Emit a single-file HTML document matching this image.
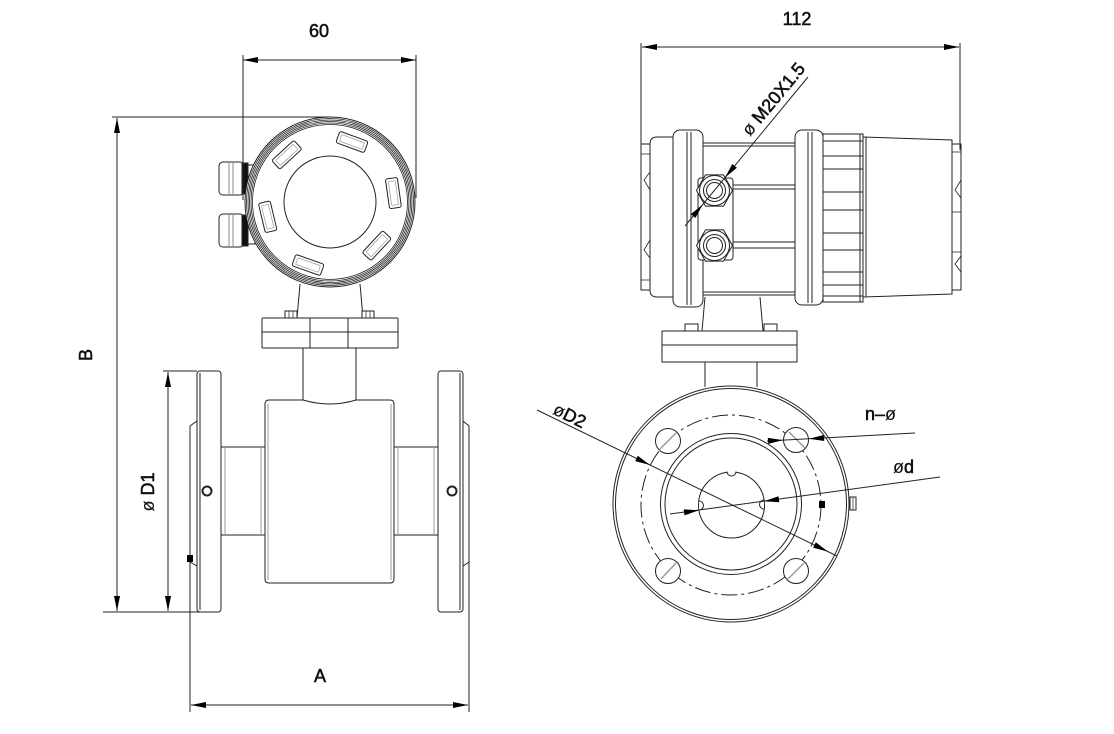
<!DOCTYPE html>
<html><head><meta charset="utf-8"><style>
html,body{margin:0;padding:0;background:#fff;}
svg{display:block;}
text{font-family:"Liberation Sans",Arial,sans-serif;fill:#111;font-size:18px;stroke:#111;stroke-width:0.55;}
tspan.l{stroke-width:0.1;}
</style></head><body>
<svg width="1114" height="734" viewBox="0 0 1114 734" xmlns="http://www.w3.org/2000/svg">
<defs>
<marker id="a" viewBox="0 0 15 6" markerWidth="15" markerHeight="6" refX="15" refY="3" orient="auto-start-reverse" markerUnits="userSpaceOnUse"><path d="M0,0L15,3L0,6z" fill="#000"/></marker>
</defs>
<rect width="1114" height="734" fill="#fff"/>

<!-- ================= LEFT VIEW ================= -->
<g fill="none" stroke="#222" stroke-width="1">
  <g fill="#fff">
    <rect x="219" y="162" width="25" height="33" rx="4"/>
    <rect x="248" y="165" width="7" height="27"/>
    <rect x="219" y="214" width="25" height="33" rx="4"/>
    <rect x="248" y="217" width="7" height="27"/>
  </g>
  <rect x="242" y="163" width="6" height="31" fill="#111"/>
  <rect x="242" y="215" width="6" height="31" fill="#111"/>
  <path d="M229,163V194M233,163V194M229,215V246M233,215V246" stroke="#888"/>

  <circle cx="330" cy="202" r="85" fill="#fff"/>
  <g stroke-width="0.8">
    <circle cx="330" cy="202" r="83.5"/>
    <circle cx="330" cy="202" r="82"/>
    <circle cx="330" cy="202" r="80.5"/>
    <circle cx="330" cy="202" r="79"/>
    <circle cx="330" cy="202" r="77.5"/>
  </g>
  <g>
    <rect x="-15" y="-6" width="30" height="12" rx="2" transform="translate(352,142) rotate(20.1)"/>
    <rect x="-15" y="-6" width="30" height="12" rx="2" transform="translate(286.8,154.8) rotate(-42.5)"/>
    <rect x="-15" y="-6" width="30" height="12" rx="2" transform="translate(393.4,193.1) rotate(82)"/>
    <rect x="-15" y="-6" width="30" height="12" rx="2" transform="translate(376.8,245.6) rotate(133)"/>
    <rect x="-15" y="-6" width="30" height="12" rx="2" transform="translate(308,265) rotate(199.5)"/>
    <rect x="-15" y="-6" width="30" height="12" rx="2" transform="translate(267.7,216.8) rotate(256.6)"/>
  </g>
  <g stroke="#999" stroke-width="0.7">
    <rect x="-12" y="-3.5" width="24" height="7" rx="1" transform="translate(352,142) rotate(20.1)"/>
    <rect x="-12" y="-3.5" width="24" height="7" rx="1" transform="translate(286.8,154.8) rotate(-42.5)"/>
    <rect x="-12" y="-3.5" width="24" height="7" rx="1" transform="translate(393.4,193.1) rotate(82)"/>
    <rect x="-12" y="-3.5" width="24" height="7" rx="1" transform="translate(376.8,245.6) rotate(133)"/>
    <rect x="-12" y="-3.5" width="24" height="7" rx="1" transform="translate(308,265) rotate(199.5)"/>
    <rect x="-12" y="-3.5" width="24" height="7" rx="1" transform="translate(267.7,216.8) rotate(256.6)"/>
  </g>
  <circle cx="330" cy="202" r="46"/>

  <path d="M300,284L297,318M360,284L363,318"/>
  <rect x="285" y="311" width="12" height="7" fill="#fff"/>
  <rect x="362" y="311" width="12" height="7" fill="#fff"/>
  <path d="M289,311V318M293,311V318M366,311V318M370,311V318" stroke-width="0.7"/>
  <rect x="262" y="318" width="136" height="30" rx="1" fill="#fff"/>
  <path d="M262,332H398M310,318V348M348,318V348"/>
  <path d="M303,348V401M356,348V401"/>
  <path d="M269,400L303,400Q330,408 356,400L390,400Q394,400 394,404L394,579Q394,583 390,583L269,583Q265,583 265,579L265,404Q265,400 269,400Z" fill="#fff"/>
  <path d="M268,404V580M391,404V580" stroke="#999"/>
  <rect x="221" y="447" width="44" height="88"/>
  <rect x="394" y="447" width="44" height="88"/>
  <path d="M225,448V534M261,448V534M398,448V534M434,448V534" stroke="#999"/>
  <rect x="197" y="371" width="24" height="241" rx="3" fill="#fff"/>
  <rect x="438" y="371" width="25" height="241" rx="3" fill="#fff"/>
  <path d="M200,373V610M460,373V610"/>
  <path d="M197,421L190,426V562L197,566M463,421L469,426V562L463,566"/>
  <circle cx="207" cy="491" r="4.5" stroke-width="2"/>
  <circle cx="452" cy="491" r="4.5" stroke-width="2"/>
  <rect x="187" y="555" width="6" height="7" fill="#000" stroke="none"/>

  <line x1="243" y1="60" x2="416" y2="60" marker-start="url(#a)" marker-end="url(#a)"/>
  <path d="M243,55V200M416,55V198"/>
  <line x1="117" y1="118" x2="117" y2="611" marker-start="url(#a)" marker-end="url(#a)"/>
  <path d="M112,117H330M103,612H207"/>
  <line x1="168" y1="372" x2="168" y2="611" marker-start="url(#a)" marker-end="url(#a)"/>
  <path d="M163,371H197"/>
  <line x1="191" y1="705" x2="468" y2="705" marker-start="url(#a)" marker-end="url(#a)"/>
  <path d="M190,562V712M469,562V712"/>
</g>

<text x="319" y="37" text-anchor="middle">60</text>
<text x="320" y="682" text-anchor="middle">A</text>
<text transform="translate(92,355) rotate(-90)" text-anchor="middle">B</text>
<text transform="translate(154,492) rotate(-90)" text-anchor="middle"><tspan class="l">ø</tspan> D1</text>

<!-- ================= RIGHT VIEW ================= -->
<g fill="none" stroke="#222" stroke-width="1">
  <rect x="641" y="144" width="10" height="146" fill="#fff"/>
  <path d="M641,154H650M641,280H650M650,172L644,180L650,190M650,240L644,250L650,258" stroke-width="0.8"/>
  <path d="M673,137H657Q650,137 650,144V290Q650,297 657,297H673Z" fill="#fff"/>
  <rect x="700" y="143" width="98" height="152" fill="#fff"/>
  <path d="M703,146H795M703,185H795M703,189H795M703,242H795M703,248H795M703,292H795"/>
  <rect x="673" y="130" width="30" height="177" rx="7" fill="#fff"/>
  <path d="M687,132V305M691,132V305"/>
  <rect x="795" y="130" width="28" height="175" rx="7" fill="#fff"/>
  <path d="M808,132V303M812,132V303"/>
  <rect x="823" y="134" width="40" height="168" fill="#fff"/>
  <path d="M823,141H863M823,156H863M823,169H863M823,192H863M823,210H863M823,233H863M823,250H863M823,272H863M823,285H863M823,296H863M860,134V302"/>
  <path d="M863,137L952,140L952,294L863,297Z" fill="#fff"/>
  <path d="M866,137V297"/>
  <rect x="952" y="144" width="9" height="146" fill="#fff"/>
  <path d="M952,152H961M952,212H961M952,252H961M961,180L955,190L961,198M961,256L955,264L961,272" stroke-width="0.8"/>

  <rect x="698" y="178" width="35" height="82" rx="3" fill="#fff"/>
  <polygon points="732.5,190.5 723.5,206.1 705.5,206.1 696.5,190.5 705.5,174.9 723.5,174.9" fill="#fff"/>
  <circle cx="714.5" cy="190.5" r="15"/>
  <circle cx="714.5" cy="190.5" r="11"/>
  <circle cx="714.5" cy="190.5" r="8"/>
  <polygon points="732.5,245.5 723.5,261.1 705.5,261.1 696.5,245.5 705.5,229.9 723.5,229.9" fill="#fff"/>
  <circle cx="714.5" cy="245.5" r="15"/>
  <circle cx="714.5" cy="245.5" r="11"/>
  <circle cx="714.5" cy="245.5" r="8"/>

  <path d="M705,297L702,331M760,297L763,331"/>
  <rect x="685" y="324" width="13" height="7" fill="#fff"/>
  <rect x="764" y="324" width="13" height="7" fill="#fff"/>
  <rect x="662" y="331" width="135" height="31" fill="#fff"/>
  <path d="M662,345H797M705,362V387M757,362V387"/>

  <circle cx="731" cy="504" r="118" fill="#fff"/>
  <circle cx="731" cy="504" r="115.5"/>
  <circle cx="731" cy="505" r="90" stroke-dasharray="16 4 3 4"/>
  <circle cx="731" cy="504" r="70.5"/>
  <circle cx="731" cy="504" r="66"/>
  <circle cx="731.5" cy="505" r="33"/>
  <path d="M727,471.5A4.5,4.5 0 0 0 736,471.5M699,501A4.5,4.5 0 0 1 699,510M764,500A4.5,4.5 0 0 0 764,509" fill="#fff"/>
  <circle cx="668" cy="441" r="12.5" fill="#fff"/>
  <circle cx="796" cy="440" r="12.5" fill="#fff"/>
  <circle cx="668" cy="571" r="12.5" fill="#fff"/>
  <circle cx="796" cy="571" r="12.5" fill="#fff"/>
  <path d="M660,449L676,433M789,432L805,448M661,579L676,563M788,579L804,563" stroke="#999" stroke-width="1.5"/>
  <rect x="850" y="497" width="6" height="13" fill="#fff"/>
  <path d="M853,497V510" stroke-width="0.7"/>
  <rect x="819" y="501" width="6" height="7" fill="#000" stroke="none"/>

  <path d="M537,410L837,556"/>
  <path d="M670,514L940,477"/>
  <path d="M767,441L915,433"/>
  <path d="M685,226L808,77"/>

  <line x1="642" y1="47" x2="959" y2="47" marker-start="url(#a)" marker-end="url(#a)"/>
  <path d="M641,43V148M960,43V150"/>
</g>

<g fill="#000">
  <polygon points="650,465 635.2,461.1 637.8,455.7"/>
  <polygon points="828,551.6 813.2,547.7 815.8,542.3"/>
  <polygon points="699,510.3 684.5,515.4 683.7,509.4"/>
  <polygon points="764,501.3 779.3,502.2 778.5,496.2"/>
  <polygon points="783,440.1 768.2,443.9 767.8,437.9"/>
  <polygon points="809,438.8 824.2,441 823.8,435"/>
  <polygon points="702.8,204.4 695.5,217.9 690.9,214.1"/>
  <polygon points="725.1,177.5 736.9,167.8 732.3,164"/>
</g>

<text x="797" y="25" text-anchor="middle">112</text>
<text transform="translate(778,103) rotate(-50.5)" text-anchor="middle"><tspan class="l">ø</tspan> M20X1.5</text>
<text transform="translate(567,421) rotate(26)" text-anchor="middle"><tspan class="l">ø</tspan>D2</text>
<text x="865" y="420">n–<tspan class="l">ø</tspan></text>
<text x="893" y="473"><tspan class="l">ø</tspan>d</text>
</svg>
</body></html>
